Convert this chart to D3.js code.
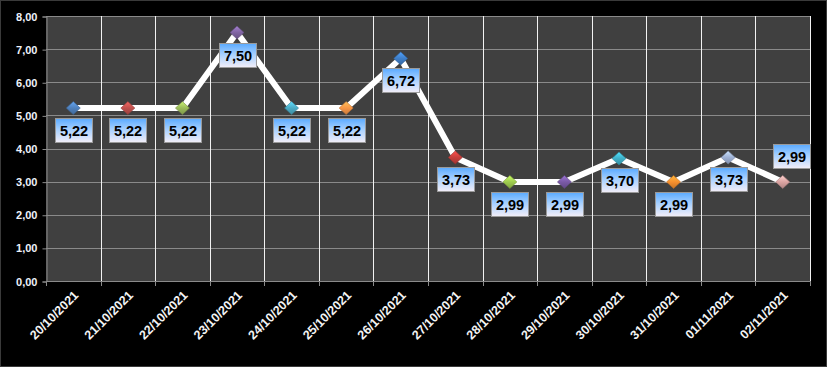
<!DOCTYPE html>
<html>
<head>
<meta charset="utf-8">
<script src="https://cdn.jsdelivr.net/npm/d3@7"></script>
<style>
  html, body { margin: 0; padding: 0; background: #000; }
  svg { display: block; }
</style>
</head>
<body>
<svg id="chart"></svg>
<script>
// data
const dates = ['20/10/2021','21/10/2021','22/10/2021','23/10/2021','24/10/2021','25/10/2021','26/10/2021',
               '27/10/2021','28/10/2021','29/10/2021','30/10/2021','31/10/2021','01/11/2021','02/11/2021'];
const values = [5.22, 5.22, 5.22, 7.50, 5.22, 5.22, 6.72, 3.73, 2.99, 2.99, 3.70, 2.99, 3.73, 2.99];
const yTicks = [0, 1, 2, 3, 4, 5, 6, 7, 8];
const markerColors = ['#4f81bd','#c0504d','#9bbb59','#8064a2','#4bacc6','#f79646',
                      '#3f7fc9','#c8403d','#9fcc4f','#7a5aa6','#3fb0c8','#f7902e','#9fb2d6','#dba4a2'];

const WIDTH = 827, HEIGHT = 367;
const MARGIN = { left: 46, right: 17, top: 16, bottom: 86 };

const svg = d3.select('#chart').attr('width', WIDTH).attr('height', HEIGHT);
const defs = svg.append('defs');

svg.append('rect')
  .attr('x', 0.5).attr('y', 0.5)
  .attr('width', WIDTH - 1).attr('height', HEIGHT - 1)
  .attr('fill', '#000').attr('stroke', '#3a3a3a');

const xScale = d3.scaleBand()
  .domain(dates)
  .range([MARGIN.left, WIDTH - MARGIN.right]);
const yScale = d3.scaleLinear()
  .domain([0, 8])
  .range([HEIGHT - MARGIN.bottom, MARGIN.top]);

const x0 = MARGIN.left, x1 = WIDTH - MARGIN.right;
const y0 = HEIGHT - MARGIN.bottom, y1 = MARGIN.top;

// plot area
svg.append('rect')
  .attr('x', x0).attr('y', y1)
  .attr('width', x1 - x0).attr('height', y0 - y1)
  .attr('fill', '#404040');

// horizontal grid
svg.append('g')
  .selectAll('line')
  .data(yTicks.filter(d => d > 0))
  .join('line')
  .attr('x1', x0).attr('x2', x1)
  .attr('y1', d => Math.round(yScale(d)) + 0.5)
  .attr('y2', d => Math.round(yScale(d)) + 0.5)
  .attr('stroke', '#8a8a8a').attr('stroke-width', 1);

// vertical grid at category boundaries
svg.append('g')
  .selectAll('line')
  .data(dates)
  .join('line')
  .attr('x1', d => Math.round(xScale(d) + xScale.bandwidth()) + 0.5)
  .attr('x2', d => Math.round(xScale(d) + xScale.bandwidth()) + 0.5)
  .attr('y1', y1).attr('y2', y0)
  .attr('stroke', '#f2f2f2').attr('stroke-width', 1);

// y axis
const yAxis = svg.append('g')
  .attr('transform', `translate(${x0 + 0.5}, 0.5)`)
  .call(d3.axisLeft(yScale)
    .tickValues(yTicks)
    .tickSize(4)
    .tickPadding(5)
    .tickFormat(d => d3.format('.2f')(d).replace('.', ',')));
yAxis.select('.domain').attr('stroke', '#8a8a8a');
yAxis.selectAll('.tick line').attr('stroke', '#8a8a8a');
yAxis.selectAll('.tick text')
  .attr('fill', '#eef2fa')
  .attr('font-family', 'Liberation Sans, Arial, sans-serif')
  .attr('font-weight', 'bold')
  .attr('font-size', '11px');

// x axis
const xBoundaries = [x0].concat(dates.map(d => xScale(d) + xScale.bandwidth()));
const xAxis = svg.append('g');
xAxis.append('line')
  .attr('x1', x0).attr('x2', x1)
  .attr('y1', y0 + 0.5).attr('y2', y0 + 0.5)
  .attr('stroke', '#8a8a8a');
xAxis.selectAll('line.tk')
  .data(xBoundaries)
  .join('line')
  .attr('class', 'tk')
  .attr('x1', d => Math.round(d) + 0.5).attr('x2', d => Math.round(d) + 0.5)
  .attr('y1', y0).attr('y2', y0 + 5)
  .attr('stroke', '#8a8a8a');
xAxis.selectAll('text')
  .data(dates)
  .join('text')
  .attr('transform', d => `translate(${xScale(d) + xScale.bandwidth() / 2 + 6}, ${y0 + 15}) rotate(-45)`)
  .attr('text-anchor', 'end')
  .attr('fill', '#f4f4f4')
  .attr('font-family', 'Liberation Sans, Arial, sans-serif')
  .attr('font-weight', 'bold')
  .attr('font-size', '12.5px')
  .text(d => d);

// line
const pts = dates.map((d, i) => ({ date: d, value: values[i], i: i }));
const line = d3.line()
  .x(d => xScale(d.date) + xScale.bandwidth() / 2)
  .y(d => yScale(d.value));
svg.append('path')
  .datum(pts)
  .attr('d', line)
  .attr('fill', 'none')
  .attr('stroke', '#ffffff')
  .attr('stroke-width', 6)
  .attr('stroke-linejoin', 'round');

// marker gradients
markerColors.forEach((c, i) => {
  const g = defs.append('linearGradient')
    .attr('id', 'mk' + i)
    .attr('x1', 0).attr('y1', 0).attr('x2', 0).attr('y2', 1);
  g.append('stop').attr('offset', '0%').attr('stop-color', d3.color(c).brighter(0.7));
  g.append('stop').attr('offset', '50%').attr('stop-color', c);
  g.append('stop').attr('offset', '100%').attr('stop-color', d3.color(c).darker(0.6));
});

svg.append('g')
  .selectAll('path')
  .data(pts)
  .join('path')
  .attr('transform', d => `translate(${xScale(d.date) + xScale.bandwidth() / 2}, ${yScale(d.value)})`)
  .attr('d', 'M0,-6.5 L7,0 L0,6.5 L-7,0 Z')
  .attr('fill', d => `url(#mk${d.i})`)
  .attr('stroke', d => d3.color(markerColors[d.i]).darker(0.8))
  .attr('stroke-width', 0.6);

// label box gradient
const lg = defs.append('linearGradient')
  .attr('id', 'lbl')
  .attr('x1', 0).attr('y1', 0).attr('x2', 0).attr('y2', 1);
lg.append('stop').attr('offset', '0%').attr('stop-color', '#5aaaff');
lg.append('stop').attr('offset', '45%').attr('stop-color', '#a6d0ff');
lg.append('stop').attr('offset', '100%').attr('stop-color', '#f3eef8');

const boxW = 37, boxH = 24;
const labels = svg.append('g')
  .selectAll('g')
  .data(pts)
  .join('g')
  .attr('transform', d => {
    const cx = xScale(d.date) + xScale.bandwidth() / 2;
    const cy = yScale(d.value);
    // last label sits above its point, the rest below
    if (d.i === pts.length - 1) return `translate(${Math.round(cx - boxW / 2 + 9)}, ${Math.round(cy - 38)})`;
    return `translate(${Math.round(cx - boxW / 2)}, ${Math.round(cy + 10)})`;
  });
labels.append('rect')
  .attr('x', 0.5).attr('y', 0.5)
  .attr('width', boxW).attr('height', boxH)
  .attr('fill', 'url(#lbl)')
  .attr('stroke', '#9a9a9a');
labels.append('text')
  .attr('x', boxW / 2 + 0.5)
  .attr('y', boxH / 2 + 6)
  .attr('text-anchor', 'middle')
  .attr('fill', '#000')
  .attr('font-family', 'Liberation Sans, Arial, sans-serif')
  .attr('font-weight', 'bold')
  .attr('font-size', '14.5px')
  .text(d => d3.format('.2f')(d.value).replace('.', ','));
</script>
</body>
</html>
